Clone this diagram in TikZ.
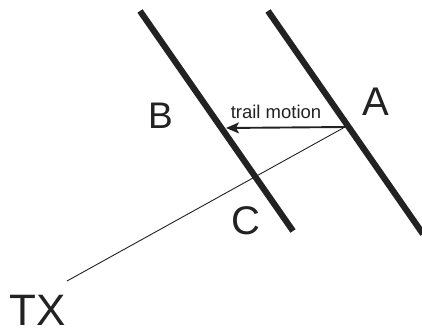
\documentclass[tikz,border=0pt]{standalone}
\usepackage{fontspec}
\setmainfont{Liberation Sans}
\usetikzlibrary{arrows.meta}
\definecolor{ink}{HTML}{222222}
\begin{document}
\begin{tikzpicture}[x=1pt,y=-1pt,
  thick line/.style={draw=ink,line width=6.2pt},
  thin line/.style={draw=ink,line width=0.9pt},
  motion/.style={draw=ink,line width=1.9pt,-{Stealth[length=13pt,width=11pt,inset=3pt]}},
  lab/.style={text=ink,inner sep=0pt}]
\useasboundingbox (0,0) rectangle (422,332);
\clip (0,0) rectangle (422,332);
\coordinate (L1) at (140,11);
\coordinate (L2) at (293,231);
\coordinate (R1) at (268,11);
\coordinate (R2) at (423,234);
\coordinate (P) at (345,127);
\coordinate (Q) at (226,128);
\coordinate (T) at (67,281);
\draw[thick line] (L1) -- (L2);
\draw[thick line] (R1) -- (R2);
\draw[thin line] (P) -- (T);
\draw[motion] (P) -- (Q);
\node[lab,font=\fontsize{18.5}{20}\selectfont] (tm) at (276,111.5) {trail motion};
\node[lab,font=\fontsize{37}{40}\selectfont] (B) at (160.5,115.5) {B};
\node[lab,font=\fontsize{40}{44}\selectfont] (A) at (376,102) {A};
\node[lab,font=\fontsize{40}{44}\selectfont] (C) at (246,221) {C};
\node[lab,font=\fontsize{44}{50}\selectfont] (TX) at (37.5,310.5) {TX};
\end{tikzpicture}
\end{document}
